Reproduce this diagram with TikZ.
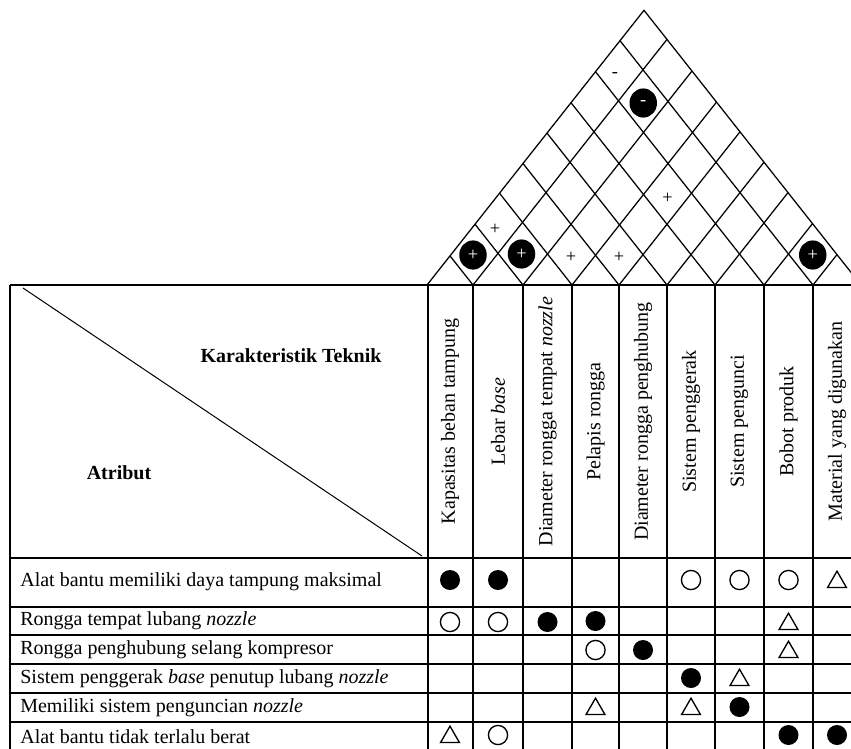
\documentclass[tikz,border=0pt]{standalone}
\usepackage{fontspec}
\setmainfont{Liberation Serif}
\usetikzlibrary{shapes.geometric}

\begin{document}
\begin{tikzpicture}[x=0.6pt,y=-0.6pt,
    font=\fontsize{12}{14}\selectfont,
    garis/.style={line width=0.75pt},
    kuat/.style={circle,fill=black,inner sep=0pt,minimum size=12pt},
    sedang/.style={circle,draw=black,line width=0.8pt,inner sep=0pt,minimum size=11.5pt},
    lemah/.style={regular polygon,regular polygon sides=3,draw=black,line width=0.8pt,inner sep=0pt,minimum size=13pt},
    korkuat/.style={ellipse,fill=black,inner sep=0pt,minimum width=16.5pt,minimum height=17.5pt,text=white,font=\fontsize{11}{11}\selectfont},
    kor/.style={inner sep=0pt,font=\fontsize{11}{11}\selectfont},
    kolom/.style={rotate=90,inner sep=0pt},
    baris/.style={anchor=west,inner sep=0pt}]
                    \useasboundingbox (0,0) rectangle (851,748);
                    \clip (0,0) rectangle (851,748);
                    % atap
                    \draw[garis] (427,285) -- (644,10.3) -- (861,285);
                    \draw[garis] (473,285) -- (667,39.4) (523,285) -- (692,71.0) (572,285) -- (716.5,102.1) (619,285) -- (740,131.8)
                                 (667,285) -- (764,162.2) (715,285) -- (788,192.6) (764,285) -- (812.5,223.6) (813,285) -- (837,254.6);
                    \draw[garis] (473,285) -- (450,255.9) (523,285) -- (475,224.2) (572,285) -- (499.5,193.2) (619,285) -- (523,163.5)
                                 (667,285) -- (547,133.1) (715,285) -- (571,102.7) (764,285) -- (595.5,71.7) (813,285) -- (620,40.7);
                    \node[korkuat] (r12) at (473,255) {+};
                    \node[korkuat] (r23) at (521.5,254) {+};
                    \node[korkuat] (r89) at (812.75,255) {+};
                    \node[korkuat] (r28) at (643.25,103) {-};
                    \node[kor] (r34) at (571,257) {+};
                    \node[kor] (r45) at (619,257) {+};
                    \node[kor] (r13) at (495,229) {+};
                    \node[kor] (r47) at (667.5,198) {+};
                    \node[kor] (r18) at (615,75) {-};
                    % tabel
                    \draw[garis] (10,285) -- (861,285) (10,558) -- (861,558) (10,607) -- (861,607) (10,635) -- (861,635)
                                 (10,664) -- (861,664) (10,693) -- (861,693) (10,722) -- (861,722);
                    \draw[garis] (10,285) -- (10,760) (428,285) -- (428,760) (473,285) -- (473,760) (523,285) -- (523,760)
                                 (572,285) -- (572,760) (619,285) -- (619,760) (667,285) -- (667,760) (715,285) -- (715,760)
                                 (764,285) -- (764,760) (813,285) -- (813,760) (861,285) -- (861,760);
                    \draw[line width=0.6pt] (23,288) -- (422,556);
                    \node[font=\fontsize{12}{14}\bfseries] (teknik) at (291,356) {Karakteristik Teknik};
                    \node[font=\fontsize{12}{14}\bfseries] (atribut) at (119,473) {Atribut};
                    % kolom
                    \node[kolom] (k1) at (450,421.5) {Kapasitas beban tampung};
                    \node[kolom] (k2) at (498,421.5) {Lebar \textit{base}};
                    \node[kolom] (k3) at (547.5,421.5) {Diameter rongga tempat \textit{nozzle}};
                    \node[kolom] (k4) at (595.5,421.5) {Pelapis rongga};
                    \node[kolom] (k5) at (643,421.5) {Diameter rongga penghubung};
                    \node[kolom] (k6) at (691,421.5) {Sistem penggerak};
                    \node[kolom] (k7) at (739.5,421.5) {Sistem pengunci};
                    \node[kolom] (k8) at (788.5,421.5) {Bobot produk};
                    \node[kolom] (k9) at (837,421.5) {Material yang digunakan};
                    % baris
                    \node[baris] (b1) at (20,582) {Alat bantu memiliki daya tampung maksimal};
                    \node[baris] (b2) at (20,621) {Rongga tempat lubang \textit{nozzle}};
                    \node[baris] (b3) at (20,649.5) {Rongga penghubung selang kompresor};
                    \node[baris] (b4) at (20,678.5) {Sistem penggerak \textit{base} penutup lubang \textit{nozzle}};
                    \node[baris] (b5) at (20,707.5) {Memiliki sistem penguncian \textit{nozzle}};
                    \node[baris] (b6) at (20,736.5) {Alat bantu tidak terlalu berat};
                    % hubungan
                    \node[kuat] (m11) at (450,580) {};
                    \node[kuat] (m12) at (498,580) {};
                    \node[sedang] (m16) at (691,580) {};
                    \node[sedang] (m17) at (739.5,580) {};
                    \node[sedang] (m18) at (788.5,580) {};
                    \node[lemah] (m19) at (837,582) {};
                    \node[sedang] (m21) at (450,622) {};
                    \node[sedang] (m22) at (498,622) {};
                    \node[kuat] (m23) at (547.5,622) {};
                    \node[kuat] (m24) at (595.5,621) {};
                    \node[lemah] (m28) at (788.5,624) {};
                    \node[sedang] (m34) at (595.5,650) {};
                    \node[kuat] (m35) at (643,650) {};
                    \node[lemah] (m38) at (788.5,652) {};
                    \node[kuat] (m46) at (691,678) {};
                    \node[lemah] (m47) at (739.5,680) {};
                    \node[lemah] (m54) at (595.5,709) {};
                    \node[lemah] (m56) at (691,709) {};
                    \node[kuat] (m57) at (739.5,707) {};
                    \node[lemah] (m61) at (450,737) {};
                    \node[sedang] (m62) at (498,735) {};
                    \node[kuat] (m68) at (788.5,735) {};
                    \node[kuat] (m69) at (837,735) {};
                \end{tikzpicture}
\end{document}
